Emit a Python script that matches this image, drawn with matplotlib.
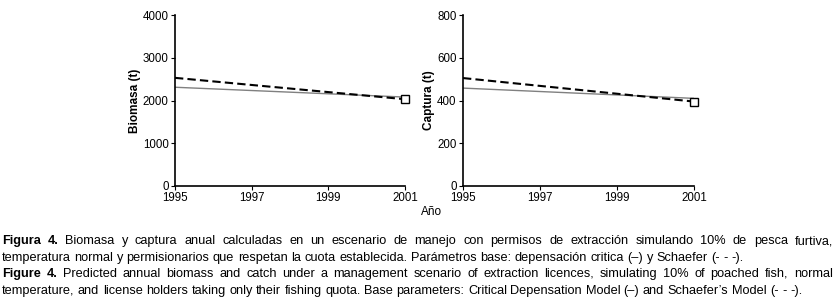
import matplotlib.pyplot as plt

plt.rcParams['font.family'] = ['Liberation Sans Narrow', 'Liberation Sans', 'DejaVu Sans']

years = [1995, 2001]
biomass_depensation = [2310, 2080]
biomass_schaefer = [2530, 2030]
catch_depensation = [458, 410]
catch_schaefer = [505, 395]
year_ticks = [1995, 1997, 1999, 2001]

caption = [
	[('Figura 4.', 'bold'), ('Biomasa y captura anual calculadas en un escenario de manejo con permisos de extracción simulando 10% de pesca furtiva,', 'normal')],
	[('temperatura normal y  permisionarios que respetan la cuota establecida. Parámetros base: depensación critica (–) y Schaefer (- - -).', 'normal')],
	[('Figure 4.', 'bold'), ('Predicted annual biomass and catch under a management scenario of extraction licences, simulating 10% of poached fish, normal', 'normal')],
	[('temperature, and license holders taking only their fishing quota. Base parameters: Critical Depensation Model (–) and Schaefer’s Model (- - -).', 'normal')],
]
justified = [True, False, True, False]

W, H = 837, 303
fig = plt.figure(figsize=(W / 100, H / 100), dpi=100)


def panel(rect, dep, sch, ymax, yticks, ylabel):
	ax = fig.add_axes(rect)
	ax.plot(years, dep, color='#808080', lw=1.0)
	ax.plot(years, sch, color='black', lw=1.5, ls=(0, (4, 2)))
	ax.plot(years[-1], sch[-1], marker='s', ms=6, mfc='white', mec='black', mew=1, clip_on=False)
	ax.set_xlim(1995, 2001)
	ax.set_ylim(0, ymax)
	ax.set_xticks(year_ticks)
	ax.set_yticks(yticks)
	ax.spines['top'].set_visible(False)
	ax.spines['right'].set_visible(False)
	ax.spines['left'].set_linewidth(1.2)
	ax.spines['bottom'].set_linewidth(1.2)
	ax.tick_params(labelsize=8.3, length=3, width=0.8, pad=1.5)
	ax.set_ylabel(ylabel, fontsize=8.5, fontweight='bold', labelpad=1.5)
	return ax


ax1 = panel([175 / W, 1 - 186 / H, 230 / W, 171 / H], biomass_depensation, biomass_schaefer,
			4000, [0, 1000, 2000, 3000, 4000], 'Biomasa (t)')
ax2 = panel([463 / W, 1 - 186 / H, 231 / W, 171 / H], catch_depensation, catch_schaefer,
			800, [0, 200, 400, 600, 800], 'Captura (t)')
fig.text(421 / W, 1 - 212 / H, 'Año', fontsize=8.5, va='center', ha='left')

fig.canvas.draw()
renderer = fig.canvas.get_renderer()
fs = 9.2


def width_of(s, weight):
	t = fig.text(0, 0, s, fontsize=fs, fontweight=weight)
	w = t.get_window_extent(renderer).width
	t.remove()
	return w


left, right = 2, 833
line_y = [244, 261, 277, 294]
space = width_of('a b', 'normal') - width_of('ab', 'normal')
for parts, y, just in zip(caption, line_y, justified):
	words = []
	for s, weight in parts:
		for w in s.split(' '):
			if w:
				words.append((w, weight))
	widths = [width_of(w, wt) for w, wt in words]
	if just:
		gap = (right - left - sum(widths)) / (len(words) - 1)
	else:
		gap = space
	x = left
	for (w, wt), wd in zip(words, widths):
		fig.text(x / W, 1 - y / H, w, fontsize=fs, fontweight=wt, va='baseline', ha='left')
		x += wd + gap

fig.savefig('out.png', dpi=100)
